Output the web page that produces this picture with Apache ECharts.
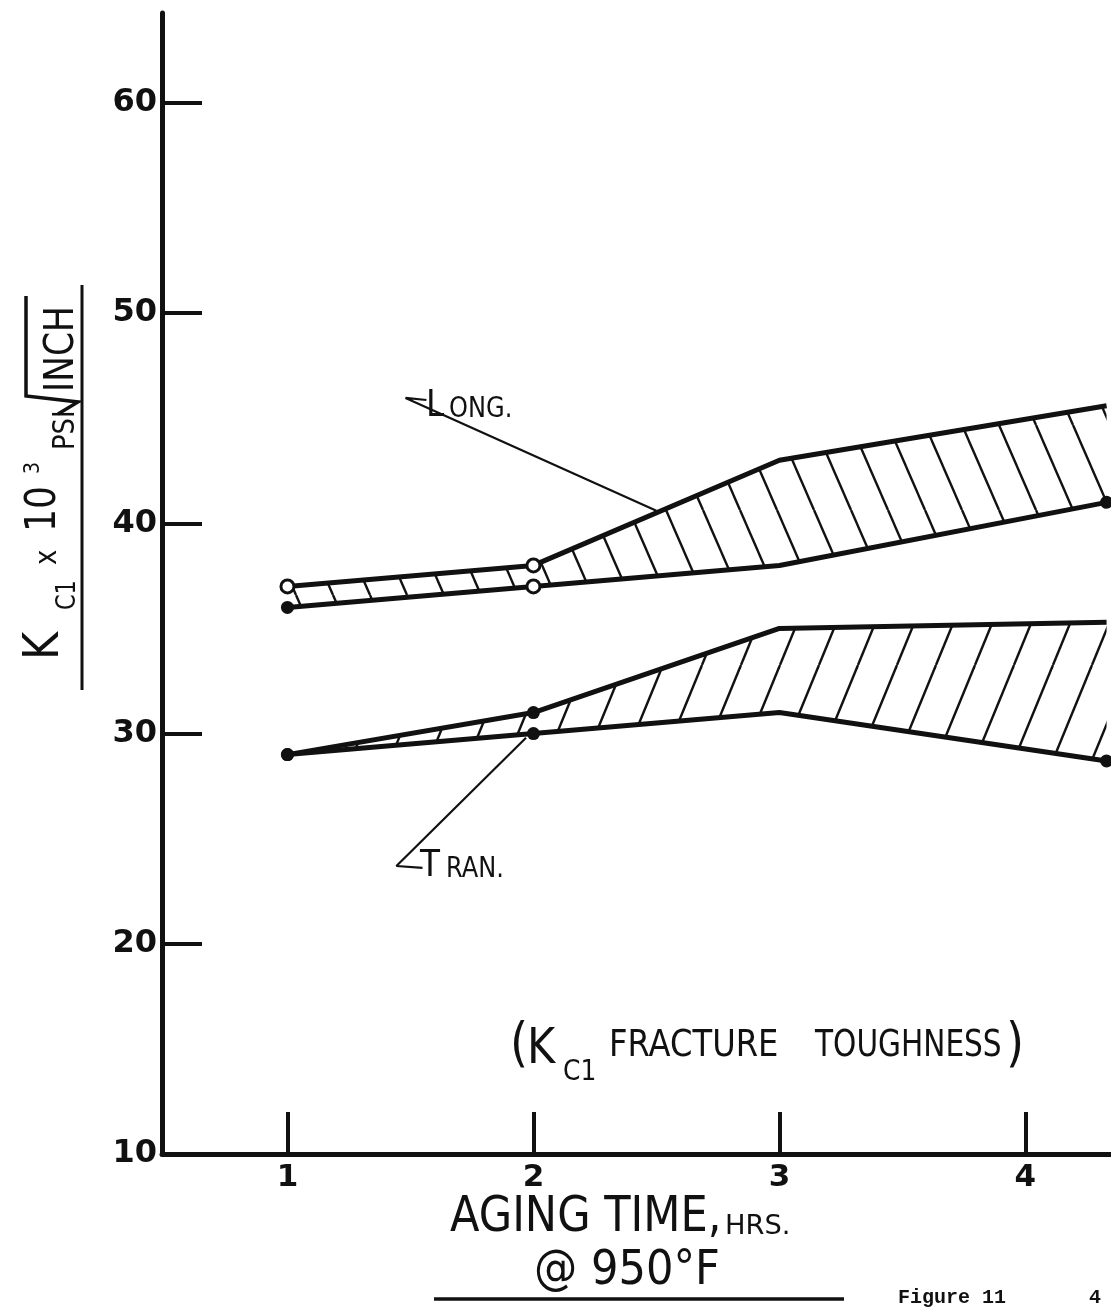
<!DOCTYPE html>
<html>
<head>
<meta charset="utf-8">
<script src="https://cdn.jsdelivr.net/npm/echarts@6/dist/echarts.min.js"></script>
<style>
html,body{margin:0;padding:0;background:#fff;}
#chart{width:1111px;height:1313px;}
</style>
</head>
<body>
<div id="chart"></div>
<script>
// aging time (hrs) and the two bands of Kc1 (10^3 psi sqrt inch)
var agingHrs=[1,2,3,4.33];
var longHigh=[37,38,43,45.6];
var longLow=[36,37,38,41];
var tranHigh=[29,31,35,35.3];
var tranLow=[29,30,31,28.7];
// marker per point: o = open circle, f = filled dot, '' = none
var longHighMarks=['o','o','',''];
var longLowMarks=['f','o','','f'];
var tranHighMarks=['f','f','',''];
var tranLowMarks=['f','f','','f'];
var xTicks=[1,2,3,4];
var yTicks=[10,20,30,40,50,60];
// leader lines of the two labels, in data units
var longLeader=[[1.565,45.87],[1.48,45.97],[2.5,40.6]];
var tranLeader=[[1.549,23.61],[1.443,23.7],[1.97,29.8]];

var INK='#111';
var F='DejaVu Sans';

function hatch(dir,w,h){
  var c=document.createElement('canvas');
  c.width=w;c.height=h;
  var g=c.getContext('2d');
  g.strokeStyle=INK;g.lineWidth=2.4;
  for(var k=-1;k<=1;k++){
    g.beginPath();
    if(dir=='back'){g.moveTo(k*w,0);g.lineTo(k*w+w,h);}
    else{g.moveTo(k*w,h);g.lineTo(k*w+w,0);}
    g.stroke();
  }
  return c;
}

function band(hi,lo,pat){
  return {
    type:'custom',silent:true,z:1,
    data:agingHrs.map(function(x,i){return [x,lo[i],hi[i]];}),
    encode:{x:0,y:[1,2]},
    renderItem:function(params,api){
      if(params.dataIndex!==0) return null;
      var pts=[],i;
      for(i=0;i<agingHrs.length;i++) pts.push(api.coord([agingHrs[i],hi[i]]));
      for(i=agingHrs.length-1;i>=0;i--) pts.push(api.coord([agingHrs[i],lo[i]]));
      return {type:'polygon',shape:{points:pts},style:{fill:{image:pat,repeat:'repeat'},stroke:null}};
    }
  };
}

function edge(vals,marks){
  return {
    type:'line',silent:true,z:3,symbolSize:13,
    lineStyle:{color:INK,width:5},
    data:agingHrs.map(function(x,i){
      var m=marks[i];
      return {
        value:[x,vals[i]],
        symbol:m?'circle':'none',
        itemStyle:m=='o'?{color:'#fff',borderColor:INK,borderWidth:3}:{color:INK,borderWidth:0}
      };
    })
  };
}

function leader(pts){
  return {type:'line',silent:true,z:2,symbol:'none',data:pts,lineStyle:{color:INK,width:2.2}};
}

function txt(x,y,s,size,extra){
  var t={type:'text',x:x,y:y,scaleX:0.86,z:10,
    style:{text:s,fontSize:size,fontFamily:F,fill:INK,align:'left',verticalAlign:'middle'}};
  if(extra) for(var k in extra) t[k]=extra[k];
  return t;
}
function vtxt(x,y,s,size){
  return txt(x,y,s,size,{rotation:Math.PI/2});
}
function seg(pts,w){
  return {type:'polyline',z:10,shape:{points:pts},style:{stroke:INK,lineWidth:w,fill:null}};
}

var chart=echarts.init(document.getElementById('chart'));

var option={
  animation:false,
  backgroundColor:'#fff',
  grid:{left:162,right:0,top:13,bottom:159},
  xAxis:{
    type:'value',min:0.49,max:4.348,
    axisLine:{show:true,onZero:false,lineStyle:{color:INK,width:5}},
    axisTick:{show:true,inside:true,length:42,customValues:xTicks,lineStyle:{color:INK,width:4}},
    axisLabel:{customValues:xTicks,margin:8,fontSize:31,fontWeight:'bold',color:INK,fontFamily:F},
    splitLine:{show:false}
  },
  yAxis:{
    type:'value',min:10,max:64.28,
    axisLine:{show:true,onZero:false,lineStyle:{color:INK,width:5}},
    axisTick:{show:true,inside:true,length:40,customValues:yTicks.slice(1),lineStyle:{color:INK,width:4}},
    axisLabel:{customValues:yTicks,margin:5,fontSize:32,fontWeight:'bold',color:INK,fontFamily:F},
    splitLine:{show:false}
  },
  series:[
    band(longHigh,longLow,hatch('back',37,85)),
    band(tranHigh,tranLow,hatch('fwd',39,95)),
    edge(longHigh,longHighMarks),
    edge(longLow,longLowMarks),
    edge(tranHigh,tranHighMarks),
    edge(tranLow,tranLowMarks),
    leader(longLeader),
    leader(tranLeader)
  ],
  graphic:[
    // y axis title, read bottom to top
    vtxt(45,660,'K',50),
    vtxt(68,610,'C1',26),
    vtxt(48,565,'x',30),
    vtxt(44,532,'10',42),
    vtxt(33,474,'3',22),
    vtxt(66,450,'PSI',30),
    vtxt(63,392,'INCH',40),
    seg([[58,414],[78,402],[26,396],[26,296]],3.5),
    seg([[82,690],[82,285]],3),
    // band labels
    txt(426,406,'L',38),
    txt(449,410,'ONG.',28),
    txt(420,866,'T',38),
    txt(446,870,'RAN.',28),
    // note inside plot
    txt(510,1047,'(',54),
    txt(527,1050,'K',50),
    txt(563,1072,'C1',29),
    txt(609,1046,'FRACTURE',37,{scaleX:0.87}),
    txt(815,1046,'TOUGHNESS',37,{scaleX:0.8}),
    txt(1006,1047,')',54),
    // x axis title
    txt(450,1218,'AGING TIME,',49,{scaleX:0.88}),
    txt(725,1227,'HRS.',26,{scaleX:1.05}),
    txt(534,1272,'@ 950°F',48,{scaleX:0.9}),
    seg([[434,1299],[844,1299]],3.5),
    {type:'text',x:898,y:1298,z:10,style:{text:'Figure 11',fontSize:20,fontWeight:'bold',fontFamily:'Liberation Mono',fill:INK,verticalAlign:'middle'}},
    {type:'text',x:1089,y:1298,z:10,style:{text:'4',fontSize:20,fontWeight:'bold',fontFamily:'Liberation Mono',fill:INK,verticalAlign:'middle'}}
  ]
};
chart.setOption(option);
</script>
</body>
</html>
